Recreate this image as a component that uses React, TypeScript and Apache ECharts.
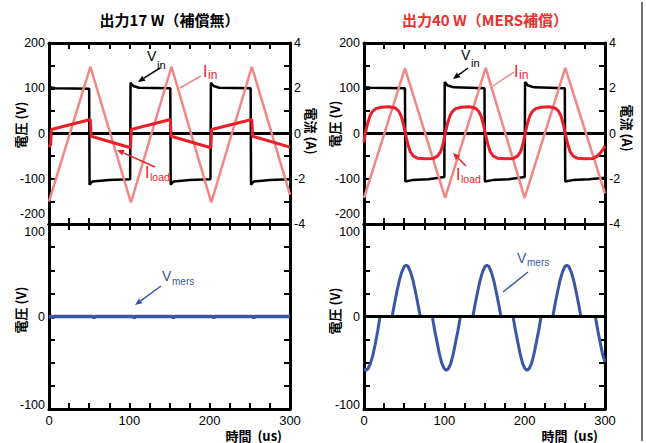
import { useEffect, useRef } from 'react';
import * as echarts from 'echarts';

type P = [number, number];

// ---- data (t in us; voltages in V; currents in A) ----
const vinLeft: P[] = [[0,104],[3,102],[8,100],[50,99],[50.5,-113],[54,-106],[75,-103],[101,-101],[101.5,112],[105,105],[112,101],[151,100],[151.5,-113],[155,-106],[175,-103],[201,-101],[201.5,112],[205,105],[212,101],[251,100],[251.5,-113],[255,-106],[275,-103],[300,-101]];
const iinLeft: P[] = [[0,-3.0],[51.5,2.95],[102,-3.05],[152.5,2.95],[202,-3.05],[252.5,2.95],[300,-2.7]];
const iloadLeft: P[] = [[0,-0.6],[2,-0.5],[3,0.18],[51.5,0.62],[52.5,-0.12],[101.5,-0.63],[102.5,0.18],[151,0.62],[152,-0.12],[201.5,-0.63],[202.5,0.18],[252.5,0.62],[253.5,-0.12],[300,-0.6]];
const vmersLeft: P[] = [[0,0],[4,0],[5,-2],[6,0],[55,0],[56,-2],[57,0],[105,0],[106,-2],[107,0],[154,0],[155,-2],[156,0],[204,0],[205,-2],[206,0],[254,0],[255,-2],[256,0],[300,0]];

const vinRight: P[] = [[0,103],[3,102],[8,101],[51,100],[51.5,-106],[60,-103],[80,-101],[100,-96],[100.5,114],[104,106],[112,102],[150,100],[150.5,-106],[160,-103],[180,-101],[200,-96],[200.5,114],[204,106],[212,102],[250,100],[250.5,-106],[260,-103],[280,-101],[300,-98]];
const iinRight: P[] = [[0,-2.85],[51,2.88],[101,-2.85],[151.5,2.9],[200,-2.85],[250.5,2.9],[300,-2.65]];
const iloadRight: P[] = [[0,-0.4],[1.5,0],[4.5,0.45],[7.5,0.78],[10.5,0.97],[14.5,1.1],[21.5,1.16],[31.5,1.18],[39.5,1.12],[43.5,0.97],[46.5,0.75],[49.5,0.35],[51.5,0],
  [54.5,-0.45],[57.5,-0.8],[61.5,-1.0],[66.5,-1.09],[76.5,-1.12],[86.5,-1.1],[91.5,-1.0],[95.5,-0.8],[98.5,-0.45],[101,0],
  [104,0.45],[107,0.78],[110,0.97],[114,1.1],[121,1.16],[131,1.18],[139,1.12],[143,0.97],[146,0.75],[149,0.35],[151,0],
  [154,-0.45],[157,-0.8],[161,-1.0],[166,-1.09],[176,-1.12],[186,-1.1],[191,-1.0],[195,-0.8],[198,-0.45],[200.5,0],
  [203.5,0.45],[206.5,0.78],[209.5,0.97],[213.5,1.1],[220.5,1.16],[230.5,1.18],[238.5,1.12],[242.5,0.97],[245.5,0.75],[248.5,0.35],[250.5,0],
  [253.5,-0.45],[256.5,-0.8],[260.5,-1.0],[265.5,-1.09],[275.5,-1.12],[285.5,-1.1],[290.5,-1.0],[294.5,-0.85],[297.5,-0.7],[300,-0.55]];
const vmersRight: P[] = [[0,-56.5],[2.5,-58],[5,-56.5],[8,-51],[11,-42],[14,-30],[17,-16],[20,0],[35,0],[38,14],[41,27],[44,39],[47,48],[50,54],[52.5,55.5],[55,54],[58,48],[61,39],[64,27],[67,14],[70,0],
  [85,0],[88,-15],[91,-28],[94,-41],[97,-51],[100,-56.5],[102.5,-58],[105,-56.5],[108,-51],[111,-41],[114,-28],[117,-15],[120,0],
  [135.5,0],[138.5,14],[141.5,27],[144.5,39],[147.5,48],[150.5,54],[153,55.5],[155.5,54],[158.5,48],[161.5,39],[164.5,27],[167.5,14],[170.5,0],
  [185.5,0],[188.5,-15],[191.5,-28],[194.5,-41],[197.5,-51],[200.5,-56.5],[203,-58],[205.5,-56.5],[208.5,-51],[211.5,-41],[214.5,-28],[217.5,-15],[220.5,0],
  [235,0],[238,14],[241,27],[244,39],[247,48],[250,54],[252.5,55.5],[255,54],[258,48],[261,39],[264,27],[267,14],[270,0],
  [288,0],[291,-15],[294,-28],[297,-41],[300,-49]];
const zeroLine: P[] = [[0,0],[300,0]];

const timeLabelEvery = 100;
const upperVLabelEvery = 100;
const upperALabelEvery = 2;
const lowerVLabelEvery = 100;

// ---- styles ----
const BLACK = '#000';
const PINK = '#f28585';
const RED = '#e8202a';
const BLUE = '#3b56a5';
const LAT = 'Liberation Sans, Arial, sans-serif';
const CJK = '"Noto Sans CJK JP", sans-serif';

const axisLine = { show: true, onZero: false, lineStyle: { color: BLACK, width: 3 } };
const axisTick = { show: true, inside: true, length: 6, lineStyle: { color: BLACK, width: 2 } };

function xAx(grid: number, pos: 'top' | 'bottom', labels: boolean) {
  return {
    type: 'value', gridIndex: grid, position: pos, min: 0, max: 300, interval: 25,
    axisLine, axisTick, splitLine: { show: false },
    axisLabel: {
      show: labels, margin: 5, color: BLACK, fontSize: 13, fontFamily: LAT,
      formatter: (v: number) => (v % timeLabelEvery === 0 ? String(v) : ''),
    },
  };
}

function yAx(grid: number, pos: 'left' | 'right', min: number, max: number, interval: number, fmt: ((v: number) => string) | null) {
  return {
    type: 'value', gridIndex: grid, position: pos, min, max, interval,
    axisLine, axisTick, splitLine: { show: false },
    axisLabel: {
      show: !!fmt, margin: 4, color: BLACK, fontSize: 12.5, fontFamily: LAT,
      formatter: fmt || undefined,
      rich: {
        up: { padding: [0, 0, 20, 0], fontSize: 12.5, fontFamily: LAT, color: BLACK },
        up2: { padding: [0, 0, 8, 0], fontSize: 12.5, fontFamily: LAT, color: BLACK },
        dn: { padding: [15, 0, 0, 0], fontSize: 12.5, fontFamily: LAT, color: BLACK },
      },
    },
  };
}

const fmtUpperV = (v: number) => (v === -200 ? '{up|-200}' : v % upperVLabelEvery === 0 ? String(v) : '');
const fmtUpperA = (v: number) => (v % upperALabelEvery === 0 ? String(v) : '');
const fmtLowerV = (v: number) => (v === 100 ? '{dn|100}' : v === -100 ? '{up2|-100}' : v % lowerVLabelEvery === 0 ? String(v) : '');

function line(data: P[], xi: number, yi: number, color: string, width: number, z: number) {
  return {
    type: 'line', data, xAxisIndex: xi, yAxisIndex: yi, showSymbol: false, symbol: 'none',
    lineStyle: { color, width }, z, clip: true, animation: false,
  };
}

function txt(x: number, y: number, text: string, fill: string, size: number, opts: any = {}) {
  return {
    type: 'text', x, y, z: 100, rotation: opts.rotation || 0,
    style: {
      text, fill, fontSize: size, fontFamily: opts.family || LAT, fontWeight: opts.weight || 'normal',
      align: opts.align || 'left', verticalAlign: opts.va || 'top',
    },
  };
}

function pointer(x1: number, y1: number, x2: number, y2: number, color: string, head: boolean, w = 1.5) {
  const ang = Math.atan2(y2 - y1, x2 - x1);
  const hl = 7, hw = 3;
  const bx = x2 - hl * Math.cos(ang), by = y2 - hl * Math.sin(ang);
  const px = -Math.sin(ang) * hw, py = Math.cos(ang) * hw;
  const els: any[] = [{ type: 'line', z: 100, shape: { x1, y1, x2: head ? bx : x2, y2: head ? by : y2 }, style: { stroke: color, lineWidth: w } }];
  if (head) els.push({ type: 'polygon', z: 100, shape: { points: [[x2, y2], [bx + px, by + py], [bx - px, by - py]] }, style: { fill: color } });
  return els;
}

const option: any = {
  animation: false,
  backgroundColor: '#fff',
  grid: [
    { left: 49, top: 43, width: 241, height: 181 },
    { left: 49, top: 224, width: 241, height: 185 },
    { left: 364, top: 43, width: 241, height: 181 },
    { left: 364, top: 224, width: 241, height: 185 },
  ],
  xAxis: [
    xAx(0, 'bottom', false), xAx(0, 'top', false),
    xAx(1, 'bottom', true), xAx(1, 'top', false),
    xAx(2, 'bottom', false), xAx(2, 'top', false),
    xAx(3, 'bottom', true), xAx(3, 'top', false),
  ],
  yAxis: [
    yAx(0, 'left', -200, 200, 50, fmtUpperV), yAx(0, 'right', -4, 4, 1, fmtUpperA),
    yAx(1, 'left', -100, 100, 25, fmtLowerV), yAx(1, 'right', -100, 100, 25, null),
    yAx(2, 'left', -200, 200, 50, fmtUpperV), yAx(2, 'right', -4, 4, 1, fmtUpperA),
    yAx(3, 'left', -100, 100, 25, fmtLowerV), yAx(3, 'right', -100, 100, 25, null),
  ],
  series: [
    line(zeroLine, 0, 0, BLACK, 3, 2),
    line(vinLeft, 0, 0, BLACK, 2.5, 3),
    line(iinLeft, 0, 1, PINK, 2.5, 4),
    line(iloadLeft, 0, 1, RED, 3, 5),
    line(zeroLine, 2, 2, BLACK, 3, 2),
    line(vmersLeft, 2, 2, BLUE, 3.5, 3),
    line(zeroLine, 4, 4, BLACK, 3, 2),
    line(vinRight, 4, 4, BLACK, 2.5, 3),
    line(iinRight, 4, 5, PINK, 2.5, 4),
    line(iloadRight, 4, 5, RED, 3, 5),
    line(vmersRight, 6, 6, BLUE, 3, 2),
    line(zeroLine, 6, 6, BLACK, 3, 3),
  ],
  graphic: {
    elements: [
      // titles
      txt(169.5, 19, '出力17 W（補償無）', BLACK, 15, { family: CJK, weight: 'bold', align: 'center', va: 'middle' }),
      txt(485, 19, '出力40 W（MERS補償）', '#e8302e', 15, { family: CJK, weight: 'bold', align: 'center', va: 'middle' }),
      // axis names
      txt(20, 125, '電圧 (V)', BLACK, 13, { family: CJK, weight: 'bold', align: 'center', va: 'middle', rotation: Math.PI / 2 }),
      txt(20, 310, '電圧 (V)', BLACK, 13, { family: CJK, weight: 'bold', align: 'center', va: 'middle', rotation: Math.PI / 2 }),
      txt(334, 124, '電圧 (V)', BLACK, 13, { family: CJK, weight: 'bold', align: 'center', va: 'middle', rotation: Math.PI / 2 }),
      txt(334, 311, '電圧 (V)', BLACK, 13, { family: CJK, weight: 'bold', align: 'center', va: 'middle', rotation: Math.PI / 2 }),
      txt(311, 131, '電流 (A)', BLACK, 13, { family: CJK, weight: 'bold', align: 'center', va: 'middle', rotation: -Math.PI / 2 }),
      txt(627, 128, '電流 (A)', BLACK, 13, { family: CJK, weight: 'bold', align: 'center', va: 'middle', rotation: -Math.PI / 2 }),
      txt(282, 435, '時間  (us)', BLACK, 13, { family: CJK, weight: 'bold', align: 'right', va: 'middle' }),
      txt(598, 435, '時間  (us)', BLACK, 13, { family: CJK, weight: 'bold', align: 'right', va: 'middle' }),
      // left annotations
      txt(147, 49, 'V', BLACK, 14), txt(157, 59, 'in', BLACK, 11),
      ...pointer(160, 68, 138, 82, BLACK, true),
      txt(203, 63, 'I', RED, 16), txt(208, 69, 'in', RED, 12),
      ...pointer(201, 76, 180, 88, PINK, false),
      txt(145, 164, 'I', RED, 16), txt(150, 171, 'load', RED, 10.5),
      ...pointer(155, 167, 117, 150, RED, true),
      txt(162, 269, 'V', BLUE, 14), txt(172, 276, 'mers', BLUE, 10),
      ...pointer(161, 286, 135, 305, BLUE, true),
      // right annotations
      txt(461, 48, 'V', BLACK, 14), txt(471, 57, 'in', BLACK, 11),
      ...pointer(468, 68, 453, 79, BLACK, true),
      txt(514, 63, 'I', RED, 16), txt(519, 69, 'in', RED, 12),
      ...pointer(514, 72, 493, 86, PINK, false),
      txt(456, 166, 'I', RED, 16), txt(461, 173, 'load', RED, 10.5),
      ...pointer(466, 166, 453, 153, RED, true),
      txt(517, 251, 'V', BLUE, 14), txt(527, 257, 'mers', BLUE, 10),
      ...pointer(528, 272, 503, 292, BLUE, false),
      // page edge line
      { type: 'line', z: 100, shape: { x1: 642, y1: 2, x2: 642, y2: 441 }, style: { stroke: '#444', lineWidth: 1.5 } },
    ],
  },
};

export default function App() {
  const ref = useRef<HTMLDivElement>(null);
  useEffect(() => {
    const chart = echarts.init(ref.current!, null, { renderer: 'svg' });
    chart.setOption(option);
    return () => chart.dispose();
  }, []);
  return <div ref={ref} style={{ position: 'fixed', left: 0, top: 0, width: 646, height: 443, background: '#fff' }} />;
}
